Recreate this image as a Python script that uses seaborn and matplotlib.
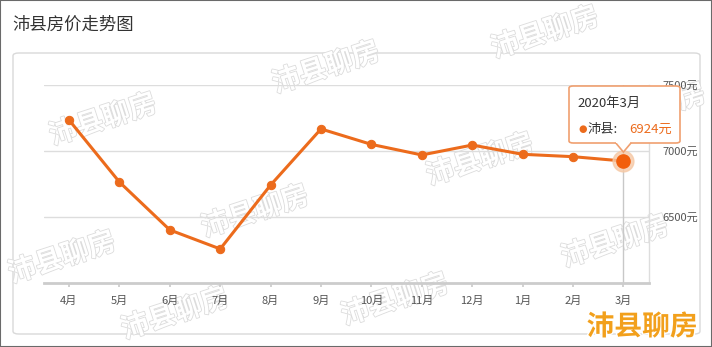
import matplotlib
matplotlib.use("Agg")
import matplotlib.pyplot as plt
import matplotlib.patheffects as pe
from matplotlib.patches import FancyBboxPatch, Polygon, Rectangle
import seaborn as sns
import pandas as pd

months = ["4月", "5月", "6月", "7月", "8月", "9月", "10月", "11月", "12月", "1月", "2月", "3月"]
prices = [7235, 6765, 6402, 6258, 6742, 7167, 7050, 6970, 7045, 6975, 6957, 6924]
yticks = [6500, 7000, 7500]
series_name = "沛县"
tooltip_title = "2020年3月"
title = "沛县房价走势图"
watermark = "沛县聊房"

LINE = "#EC6B1C"
W, H = 712, 347

sns.set_theme(style="white")
plt.rcParams["font.family"] = ["Noto Sans CJK SC", "DejaVu Sans"]

fig = plt.figure(figsize=(W / 100, H / 100), dpi=100)

def fx(x):
    return x / W

def fy(y):
    return 1 - y / H

# outer image border
fig.patches.append(Rectangle((0, 0), 1, 1, transform=fig.transFigure,
                             fill=False, edgecolor="#6a6a6a", lw=1.5, zorder=0))
# inner rounded box
fig.patches.append(FancyBboxPatch((fx(13), fy(334)), fx(700 - 13), (334 - 53) / H,
                                  boxstyle="round,pad=0,rounding_size=0.008",
                                  transform=fig.transFigure, fill=False,
                                  edgecolor="#d9d9d9", lw=1.0, zorder=0))

fig.text(fx(12), fy(25), title, fontsize=12.5, color="#333333", va="center", ha="left")

# watermarks (kept inside the picture, beneath the chart)
wm_pos = [(103, 120), (326, 68), (545, 33), (255, 212), (62, 258), (480, 160),
          (395, 300), (615, 242), (652, 110), (175, 314)]
for (x, y) in wm_pos:
    fig.text(fx(x), fy(y), watermark, fontsize=20, fontweight="bold", color="white",
             rotation=18, ha="center", va="center", zorder=0.5,
             path_effects=[pe.withStroke(linewidth=1.2, foreground="#dcdcdc")])

ax = fig.add_axes([fx(43.8), fy(283), fx(648.6 - 43.8), (283 - 85) / H])
ax.set_zorder(2)
ax.set_facecolor("none")
df = pd.DataFrame({"month": months, "price": prices})
sns.lineplot(data=df, x="month", y="price", sort=False, ax=ax, color=LINE,
             lw=2.2, marker="o", markersize=6, markeredgecolor=LINE, zorder=5)

ax.set_xlim(-0.5, len(months) - 0.5)
ax.set_ylim(6000, 7500)
ax.set_yticks(yticks)
ax.yaxis.tick_right()
ax.set_yticklabels([f"{v}元" for v in yticks])
ax.tick_params(axis="y", length=0, labelsize=8, labelcolor="#555555", pad=10)
ax.tick_params(axis="x", length=3, color="#cccccc", labelsize=8, labelcolor="#555555", pad=6,
               bottom=True)
ax.set_xlabel("")
ax.set_ylabel("")
ax.grid(axis="y", color="#dddddd", lw=1)
for s in ["top", "left"]:
    ax.spines[s].set_visible(False)
ax.spines["right"].set_color("#dddddd")
ax.spines["right"].set_linewidth(1)
ax.spines["bottom"].set_color("#cccccc")
ax.spines["bottom"].set_linewidth(2)

# crosshair + highlighted last point
last = len(months) - 1
ax.axvline(last, color="#c8c8c8", lw=1, zorder=2)
ax.plot([last], [prices[-1]], "o", ms=15, color="#F6C9A6", alpha=0.8, zorder=6, clip_on=False)
ax.plot([last], [prices[-1]], "o", ms=9.5, color="#F25F0C", zorder=7, clip_on=False)

# tooltip
fig.canvas.draw()
px, py = (ax.transData + fig.transFigure.inverted()).transform((last, prices[-1]))
apex_y_px = (1 - py) * H - 9
cx_px = px * W
box_l, box_r, box_t, box_b = 569, 680, 86, 143
fig.patches.append(FancyBboxPatch((fx(box_l), fy(box_b)), fx(box_r - box_l), (box_b - box_t) / H,
                                  boxstyle="round,pad=0,rounding_size=0.006",
                                  transform=fig.transFigure, facecolor="white",
                                  edgecolor="#F0A070", lw=1.2, zorder=20))
tri = Polygon([(fx(cx_px - 8), fy(box_b - 0.5)), (fx(cx_px), fy(apex_y_px)),
               (fx(cx_px + 8), fy(box_b - 0.5))], closed=False, transform=fig.transFigure,
              facecolor="white", edgecolor="#F0A070", lw=1.2, zorder=21)
fig.patches.append(tri)
fig.patches.append(Rectangle((fx(cx_px - 7), fy(box_b + 0.2)), fx(14), 1.6 / H,
                             transform=fig.transFigure, facecolor="white",
                             edgecolor="none", zorder=22))
fig.text(fx(577), fy(103), tooltip_title, fontsize=9.5, color="#333333",
         ha="left", va="center", zorder=30)
fig.text(fx(578), fy(129), "●", fontsize=7, color=LINE, ha="left", va="center", zorder=30,
         family=["DejaVu Sans"])
fig.text(fx(587), fy(129), f"{series_name}:", fontsize=9.5, color="#333333",
         ha="left", va="center", zorder=30)
fig.text(fx(672), fy(129), f"{prices[-1]}元", fontsize=9.5, color=LINE,
         ha="right", va="center", zorder=30)

# orange brand mark
fig.text(fx(642), fy(327), watermark, fontsize=20, fontweight="bold", color="#F2A01C",
         ha="center", va="center", zorder=30,
         path_effects=[pe.withStroke(linewidth=2, foreground="white")])

fig.savefig("out.png", dpi=100)
